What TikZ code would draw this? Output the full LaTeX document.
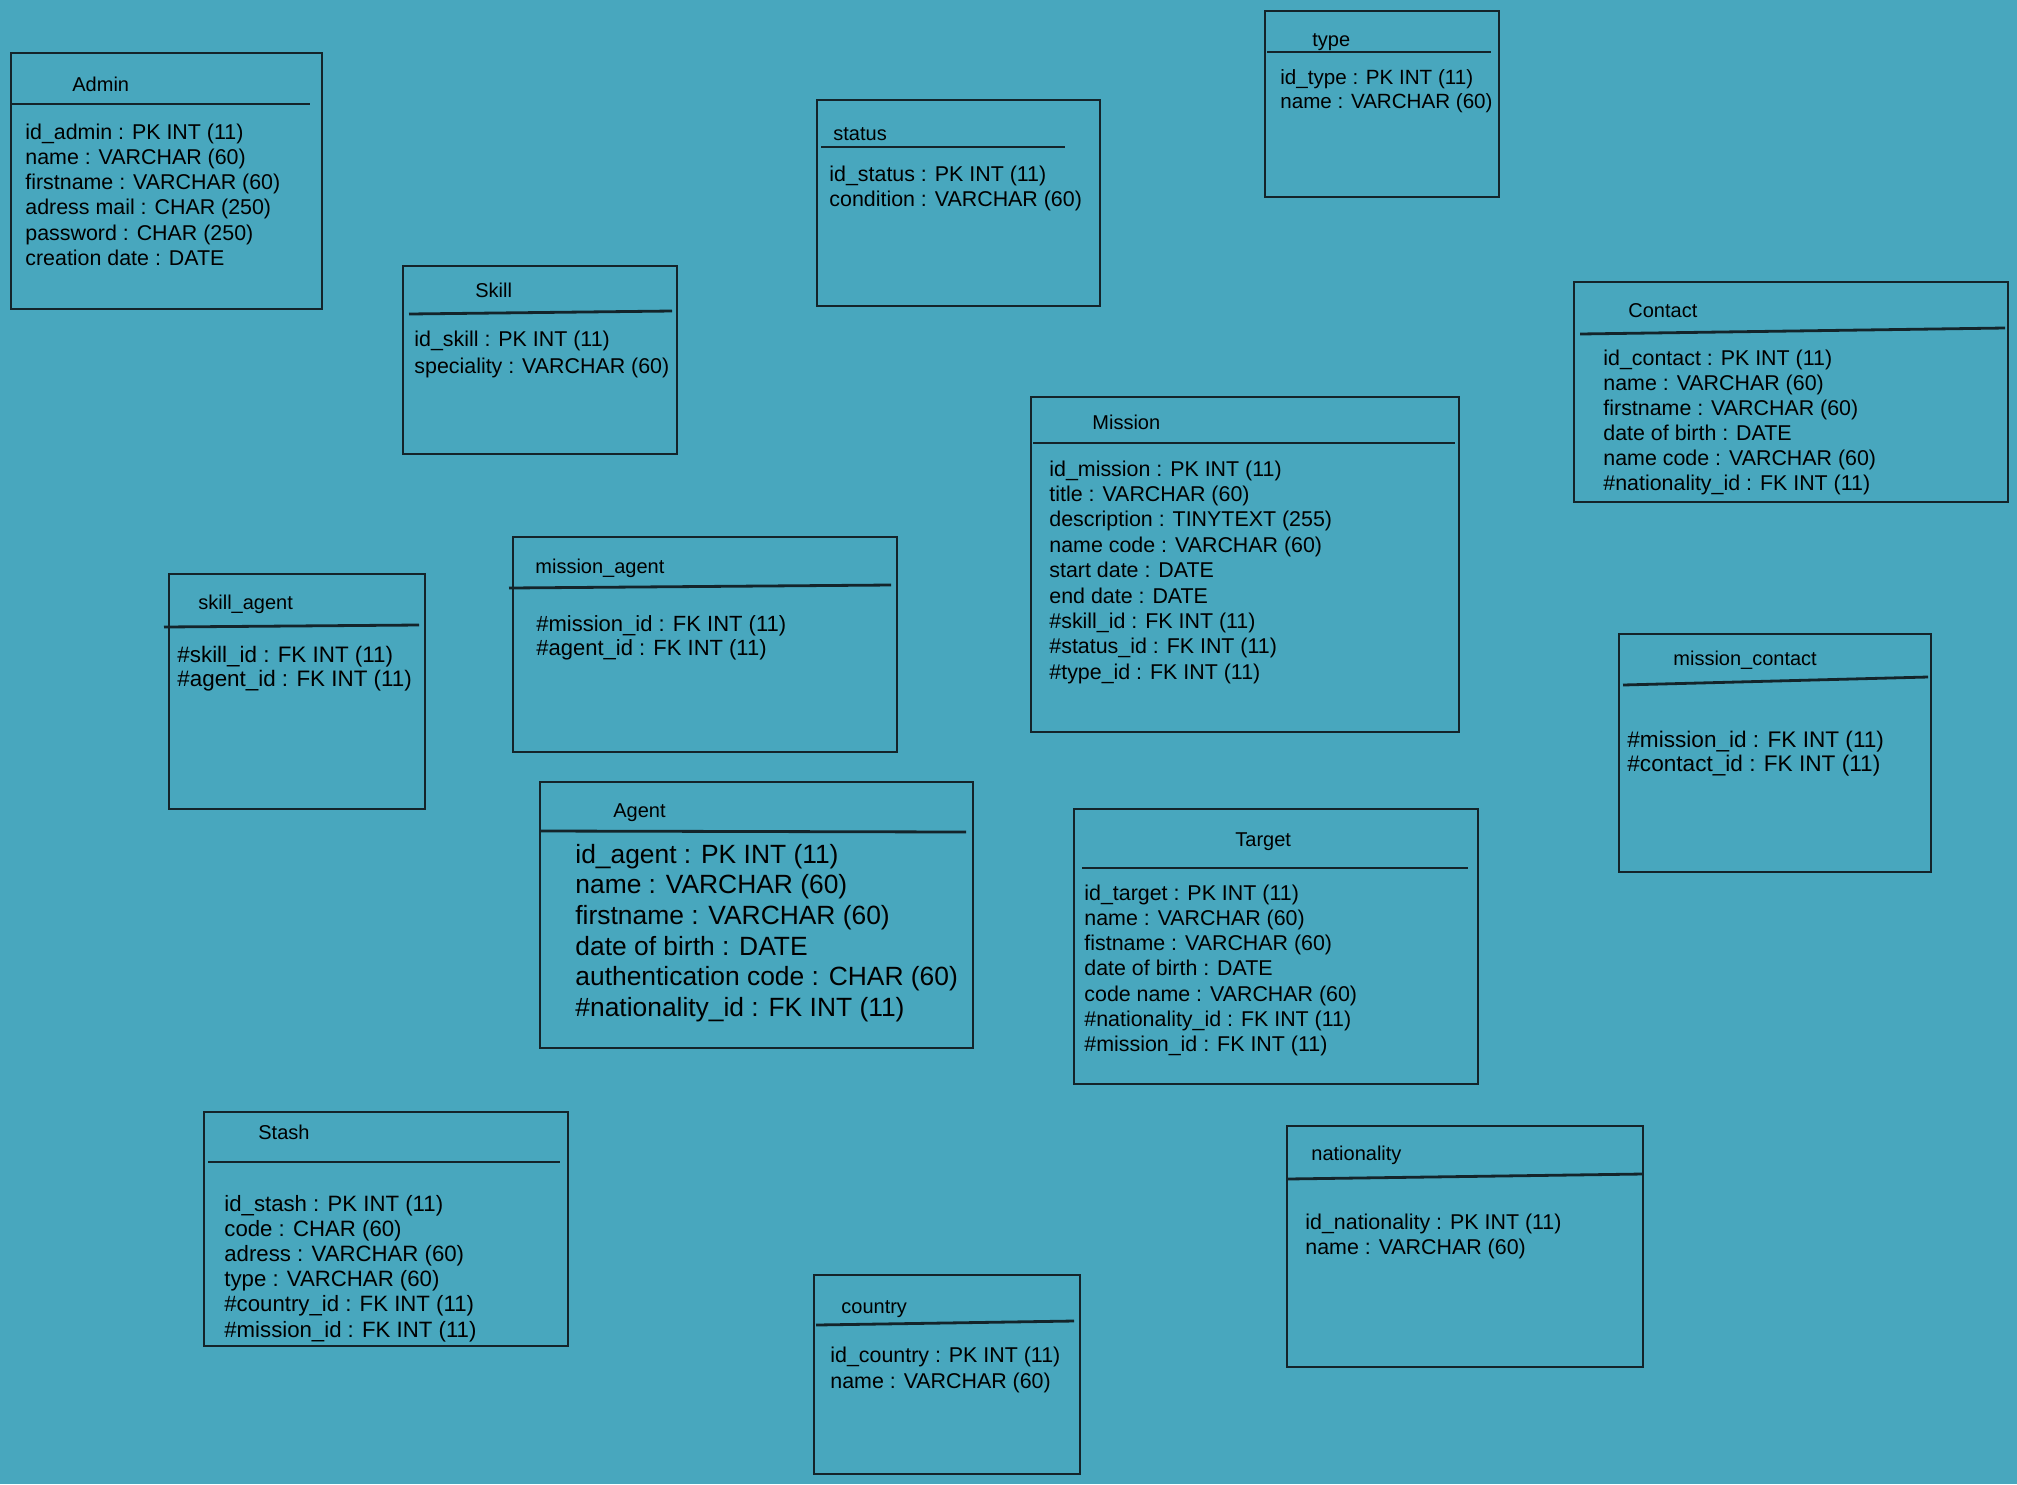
\documentclass[tikz,border=0pt]{standalone}
\usepackage{fontspec}
\setmainfont{Liberation Sans}
\definecolor{bgblue}{RGB}{72,167,190}
\definecolor{ink}{RGB}{20,36,42}

\begin{document}
\begin{tikzpicture}[x=0.5pt, y=-0.5pt,
          tbl/.style={draw=ink, line width=1.1pt},
          sep/.style={draw=ink, line width=1.4pt},
          ttl/.style={anchor=west, inner sep=0pt, yshift=-1.5pt, text height=0.72em, text depth=0.22em, font=\fontsize{10}{12}\selectfont},
          fld/.style={anchor=west, inner sep=0pt, yshift=-1.5pt, text height=0.72em, text depth=0.22em, font=\fontsize{10.7}{12}\selectfont}]
          \useasboundingbox (0,0) rectangle (2017,1484);
          \fill[bgblue] (0,0) rectangle (2017,1484);

          % Admin
          \draw[tbl] (11,53) rectangle (322,309);
          \draw[sep] (11,104) -- (310,104);
          \node[ttl] (admin) at (72,83) {Admin};
          \foreach \f [count=\i from 0] in {id\_admin : PK INT (11), name : VARCHAR (60), firstname : VARCHAR (60), adress mail : CHAR (250), password : CHAR (250), creation date : DATE}
            \node[fld] (admin\i) at (25,{131+25.3*\i}) {\f};

          % type
          \draw[tbl] (1265,11) rectangle (1499,197);
          \draw[sep] (1267,52) -- (1491,52);
          \node[ttl] (type) at (1312,38) {type};
          \foreach \f [count=\i from 0] in {id\_type : PK INT (11), name : VARCHAR (60)}
            \node[fld, font=\fontsize{10.3}{12}\selectfont] (type\i) at (1280,{76+24*\i}) {\f};

          % status
          \draw[tbl] (817,100) rectangle (1100,306);
          \draw[sep] (821,147) -- (1065,147);
          \node[ttl] (status) at (833,132) {status};
          \foreach \f [count=\i from 0] in {id\_status : PK INT (11), condition : VARCHAR (60)}
            \node[fld] (status\i) at (829,{173+25*\i}) {\f};

          % Skill
          \draw[tbl] (403,266) rectangle (677,454);
          \draw[sep] (409,314) -- (672,311);
          \node[ttl] (skill) at (475,289) {Skill};
          \foreach \f [count=\i from 0] in {id\_skill : PK INT (11), speciality : VARCHAR (60)}
            \node[fld] (skill\i) at (414,{338+27*\i}) {\f};

          % Contact
          \draw[tbl] (1574,282) rectangle (2008,502);
          \draw[sep] (1580,334) -- (2005,328);
          \node[ttl] (contact) at (1628,309) {Contact};
          \foreach \f [count=\i from 0] in {id\_contact : PK INT (11), name : VARCHAR (60), firstname : VARCHAR (60), date of birth : DATE, name code : VARCHAR (60), \#nationality\_id : FK INT (11)}
            \node[fld] (contact\i) at (1603,{357+25*\i}) {\f};

          % Mission
          \draw[tbl] (1031,397) rectangle (1459,732);
          \draw[sep] (1033,443) -- (1455,443);
          \node[ttl] (mission) at (1092,421) {Mission};
          \foreach \f [count=\i from 0] in {id\_mission : PK INT (11), title : VARCHAR (60), description : TINYTEXT (255), name code : VARCHAR (60), start date : DATE, end date : DATE, \#skill\_id : FK INT (11), \#status\_id : FK INT (11), \#type\_id : FK INT (11)}
            \node[fld] (mission\i) at (1049,{468+25.4*\i}) {\f};

          % skill_agent
          \draw[tbl] (169,574) rectangle (425,809);
          \draw[sep] (164,627) -- (419,625);
          \node[ttl] (skillagent) at (198,601) {skill\_agent};
          \foreach \f [count=\i from 0] in {\#skill\_id : FK INT (11), \#agent\_id : FK INT (11)}
            \node[fld, font=\fontsize{11.2}{12}\selectfont] (skillagent\i) at (177,{654+24*\i}) {\f};

          % mission_agent
          \draw[tbl] (513,537) rectangle (897,752);
          \draw[sep] (509,588) -- (891,585);
          \node[ttl] (missionagent) at (535,565) {mission\_agent};
          \foreach \f [count=\i from 0] in {\#mission\_id : FK INT (11), \#agent\_id : FK INT (11)}
            \node[fld, font=\fontsize{11}{12}\selectfont] (missionagent\i) at (536,{623+24*\i}) {\f};

          % mission_contact
          \draw[tbl] (1619,634) rectangle (1931,872);
          \draw[sep] (1623,685) -- (1928,677);
          \node[ttl] (missioncontact) at (1673,657) {mission\_contact};
          \foreach \f [count=\i from 0] in {\#mission\_id : FK INT (11), \#contact\_id : FK INT (11)}
            \node[fld, font=\fontsize{11.3}{12}\selectfont] (missioncontact\i) at (1627,{739+24*\i}) {\f};

          % Agent
          \draw[tbl] (540,782) rectangle (973,1048);
          \draw[sep] (540,831) -- (966,832);
          \node[ttl] (agent) at (613,809) {Agent};
          \foreach \f [count=\i from 0] in {id\_agent : PK INT (11), name : VARCHAR (60), firstname : VARCHAR (60), date of birth : DATE, authentication code : CHAR (60), \#nationality\_id : FK INT (11)}
            \node[fld, font=\fontsize{13.2}{15}\selectfont] (agent\i) at (575,{855+30.7*\i}) {\f};

          % Target
          \draw[tbl] (1074,809) rectangle (1478,1084);
          \draw[sep] (1082,868) -- (1468,868);
          \node[ttl] (target) at (1235,838) {Target};
          \foreach \f [count=\i from 0] in {id\_target : PK INT (11), name : VARCHAR (60), fistname : VARCHAR (60), date of birth : DATE, code name : VARCHAR (60), \#nationality\_id : FK INT (11), \#mission\_id : FK INT (11)}
            \node[fld] (target\i) at (1084,{892+25.3*\i}) {\f};

          % Stash
          \draw[tbl] (204,1112) rectangle (568,1346);
          \draw[sep] (208,1162) -- (560,1162);
          \node[ttl] (stash) at (258,1131) {Stash};
          \foreach \f [count=\i from 0] in {id\_stash : PK INT (11), code : CHAR (60), adress : VARCHAR (60), type : VARCHAR (60), \#country\_id : FK INT (11), \#mission\_id : FK INT (11)}
            \node[fld, font=\fontsize{11.1}{12}\selectfont] (stash\i) at (224,{1203+25.2*\i}) {\f};

          % country
          \draw[tbl] (814,1275) rectangle (1080,1474);
          \draw[sep] (816,1325) -- (1074,1321);
          \node[ttl] (country) at (841,1305) {country};
          \foreach \f [count=\i from 0] in {id\_country : PK INT (11), name : VARCHAR (60)}
            \node[fld] (country\i) at (830,{1354+26*\i}) {\f};

          % nationality
          \draw[tbl] (1287,1126) rectangle (1643,1367);
          \draw[sep] (1287,1179) -- (1643,1174);
          \node[ttl] (nationality) at (1311,1152) {nationality};
          \foreach \f [count=\i from 0] in {id\_nationality : PK INT (11), name : VARCHAR (60)}
            \node[fld] (nationality\i) at (1305,{1221+25*\i}) {\f};

        \end{tikzpicture}
\end{document}
